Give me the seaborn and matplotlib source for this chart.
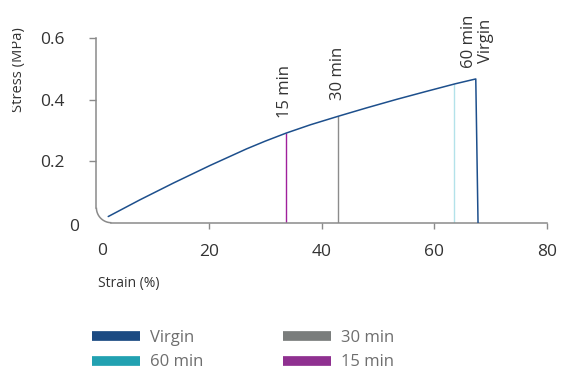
import numpy as np
import pandas as pd
import seaborn as sns
import matplotlib
matplotlib.use("Agg")
import matplotlib.pyplot as plt
from matplotlib.lines import Line2D
from matplotlib.transforms import Bbox, TransformedBbox

# ---- data ----
virgin_strain = [2.1, 7.7, 13.7, 20.2, 26.7, 30.0, 33.7, 38.0, 43.0, 48.0, 53.4, 58.5, 63.7, 67.4, 67.8]
virgin_stress = [0.020, 0.074, 0.129, 0.186, 0.240, 0.265, 0.291, 0.318, 0.346, 0.373, 0.401, 0.426, 0.451, 0.467, 0.0]

break_labels = ["15 min", "30 min", "60 min"]
break_strain = [33.7, 43.0, 63.6]
break_stress = [0.291, 0.346, 0.451]

legend_labels = ["Virgin", "60 min", "30 min", "15 min"]
xticks = [20, 40, 60, 80]
yticks = [0.2, 0.4, 0.6]

# ---- style ----
sns.set_theme(style="white")
plt.rcParams["font.family"] = ["Open Sans", "DejaVu Sans"]

line_colors = {"Virgin": "#1d4f8c", "60 min": "#b3e2ea", "30 min": "#8c8c8c", "15 min": "#a0209c"}
legend_colors = {"Virgin": "#1b4a82", "60 min": "#22a1b1", "30 min": "#7a7d7c", "15 min": "#8f3090"}
text_color = "#333333"
axis_color = "#8a8a8a"

fig = plt.figure(figsize=(5.63, 3.69), dpi=100)
ax = fig.add_axes([96.4 / 563, 1 - 222.7 / 369, (546.7 - 96.4) / 563, (222.7 - 38) / 369])

df = pd.DataFrame({"strain": virgin_strain, "stress": virgin_stress})
sns.lineplot(data=df, x="strain", y="stress", sort=False, color=line_colors["Virgin"],
             linewidth=1.1, ax=ax, zorder=3)

for lab, xs, ys in zip(break_labels, break_strain, break_stress):
    ax.vlines(xs, 0, ys, color=line_colors[lab], linewidth=1.0, zorder=2)

ax.set_xlim(0, 80)
ax.set_ylim(0, 0.6)
ax.set_xticks(xticks)
ax.set_yticks(yticks)
ax.set_xticklabels([str(t) for t in xticks])
ax.set_yticklabels([f"{t:.1f}" for t in yticks])
ax.set_xlabel("")
ax.set_ylabel("")

for s in ["top", "right"]:
    ax.spines[s].set_visible(False)
for s in ["left", "bottom"]:
    ax.spines[s].set_color(axis_color)
    ax.spines[s].set_linewidth(1.1)

# rounded corner
rx, ry = 15 / 450.3, 15 / 184.7
ax.spines["left"].set_bounds(0.6 * ry, 0.6)
ax.spines["bottom"].set_bounds(80 * rx, 80)
th = np.linspace(np.pi, 1.5 * np.pi, 30)
ax.plot(rx + rx * np.cos(th), ry + ry * np.sin(th), transform=ax.transAxes,
        color=axis_color, linewidth=1.1, clip_on=False, solid_capstyle="butt")

ax.tick_params(axis="x", direction="out", length=4, width=1, color=axis_color,
               labelsize=12.5, labelcolor=text_color, pad=11, bottom=True)
ax.tick_params(axis="y", direction="out", length=5, width=1, color=axis_color,
               labelsize=12.5, labelcolor=text_color, pad=18, left=True)

# "0" labels at the rounded corner
fig.text(74 / 563, 1 - 227 / 369, "0", ha="center", va="center", fontsize=12.5, color=text_color)
fig.text(101.7 / 563, 1 - 251 / 369, "0", ha="center", va="center", fontsize=12.5, color=text_color)

# annotations
ax.text(33.5, 0.34, "15 min", rotation=90, ha="center", va="bottom", fontsize=12, color=text_color)
ax.text(42.9, 0.399, "30 min", rotation=90, ha="center", va="bottom", fontsize=12, color=text_color)
ax.text(67.7, 0.503, "60 min\nVirgin", rotation=90, ha="center", va="bottom", fontsize=12,
        color=text_color, multialignment="center", linespacing=1.1)

# axis labels
fig.text(98 / 563, 1 - 283 / 369, "Strain (%)", ha="left", va="center", fontsize=10, color=text_color)
yl = fig.text(26 / 563, 1 - 70 / 369, "Stress (MPa)", rotation=90, ha="right", va="center",
              fontsize=10.6, color=text_color)
yl.set_clip_box(TransformedBbox(Bbox([[12 / 563, 0], [1, 1]]), fig.transFigure))
yl.set_clip_on(True)

# legend
handles = [Line2D([0], [0], color=legend_colors[l], linewidth=7, solid_capstyle="butt") for l in legend_labels]
leg = fig.legend(handles, legend_labels, loc="upper left", bbox_to_anchor=(92 / 563, 1 - 330 / 369),
                 ncol=2, frameon=False, fontsize=12, handlelength=2.9, handletextpad=0.58,
                 columnspacing=4.75, labelspacing=0.5, borderpad=0, borderaxespad=0)
for t in leg.get_texts():
    t.set_color("#6e6e6e")

fig.savefig("out.png", dpi=100)
